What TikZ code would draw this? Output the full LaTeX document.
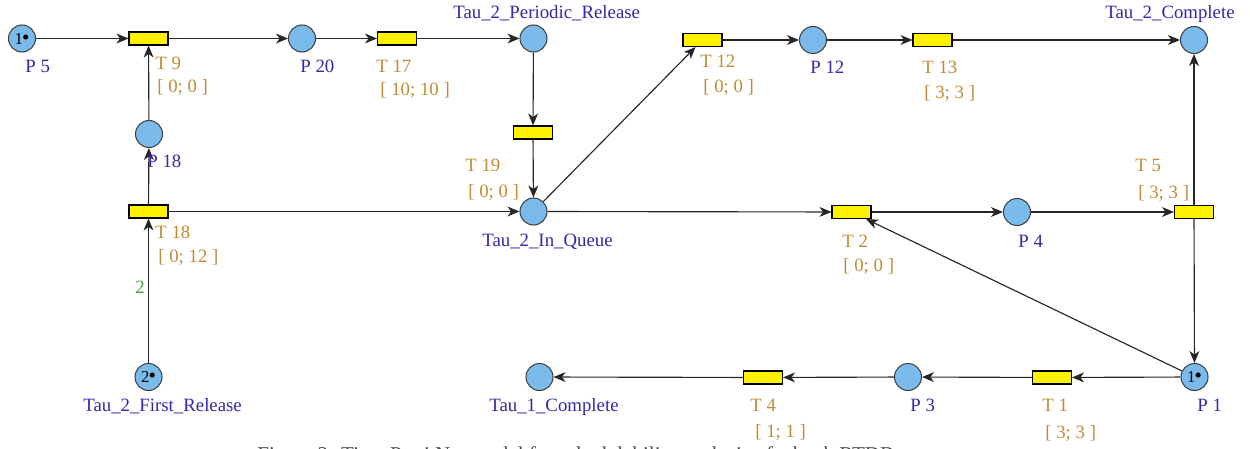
\documentclass[tikz,border=0pt]{standalone}
\usepackage{fontspec}
\setmainfont{Liberation Serif}
\usetikzlibrary{arrows.meta}
\definecolor{placefill}{RGB}{122,187,235}
\definecolor{labelblue}{RGB}{50,40,170}
\definecolor{timecol}{RGB}{190,140,55}
\definecolor{weightgreen}{RGB}{60,170,60}
\definecolor{captiongray}{RGB}{70,70,70}
\tikzset{
  place/.style={circle,draw=black!75,fill=placefill,line width=0.6pt,
    minimum size=0.54cm,inner sep=0pt,font=\fontsize{9.5}{10}\selectfont},
  trans/.style={rectangle,draw=black,fill=yellow,line width=0.6pt,
    minimum width=0.78cm,minimum height=0.26cm,inner sep=0pt},
  arc/.style={draw=black!85,line width=0.65pt,
    -{Stealth[length=6.8pt,width=5.6pt,inset=2pt]}},
  pname/.style={anchor=base west,inner sep=0pt,text=labelblue,
    font=\fontsize{10.7}{12}\selectfont},
  tname/.style={anchor=base west,inner sep=0pt,text=timecol,
    font=\fontsize{10.7}{12}\selectfont},
  weight/.style={anchor=base west,inner sep=0pt,text=weightgreen,
    font=\fontsize{10.7}{12}\selectfont}
}
\newcommand{\tok}[1]{#1\kern-0.5pt{\fontsize{12}{12}\selectfont\textbullet}}
\begin{document}
\begin{tikzpicture}[x=0.02cm,y=-0.02cm]
\useasboundingbox (0,0) rectangle (1250,449);

% places
\node[place] (P5)  at (22,38.5) {\tok{1}};
\node[place] (P20) at (302,38.5) {};
\node[place] (TPR) at (533.5,38.5) {};
\node[place] (P12) at (813,40) {};
\node[place] (T2C) at (1194,40) {};
\node[place] (P18) at (149,134) {};
\node[place] (TIQ) at (533.5,211.5) {};
\node[place] (P4)  at (1017,212) {};
\node[place] (TFR) at (148.5,377) {\tok{2}};
\node[place] (T1C) at (539.5,377) {};
\node[place] (P3)  at (908,377) {};
\node[place] (P1)  at (1194.5,377) {\tok{1}};

% transitions
\node[trans] (T9)  at (148.5,38.5) {};
\node[trans] (T17) at (397,38.5) {};
\node[trans] (T12) at (702.5,40) {};
\node[trans] (T13) at (932.5,40) {};
\node[trans] (T19) at (533,132.5) {};
\node[trans] (T18) at (148.5,211.5) {};
\node[trans] (T2)  at (851.5,212) {};
\node[trans] (T5)  at (1194,212) {};
\node[trans] (T4)  at (763,377.5) {};
\node[trans] (T1)  at (1052,377.5) {};

% arcs
\draw[arc] (P5) -- (T9);
\draw[arc] (T9) -- (P20);
\draw[arc] (P20) -- (T17);
\draw[arc] (T17) -- (TPR);
\draw[arc] (TPR) -- (T19);
\draw[arc] (T19) -- (TIQ);
\draw[arc] (P18) -- (T9);
\draw[arc] (T18) -- (P18);
\draw[arc] (TFR) -- (T18);
\draw[arc] (T18) -- (TIQ);
\draw[arc] (TIQ) -- (T12);
\draw[arc] (T12) -- (P12);
\draw[arc] (P12) -- (T13);
\draw[arc] (T13) -- (T2C);
\draw[arc] (TIQ) -- (T2);
\draw[arc] (T2) -- (P4);
\draw[arc] (P4) -- (T5);
\draw[arc] (T5) -- (T2C);
\draw[arc] (T5) -- (P1);
\draw[arc] (P1) -- (T2);
\draw[arc] (P1) -- (T1);
\draw[arc] (T1) -- (P3);
\draw[arc] (P3) -- (T4);
\draw[arc] (T4) -- (T1C);

% place names
\node[pname] (lP5)  at (25,73) {P 5};
\node[pname] (lP20) at (300,73) {P 20};
\node[pname] (lTPR) at (453,19) {Tau\_2\_Periodic\_Release};
\node[pname] (lP12) at (810,74) {P 12};
\node[pname] (lT2C) at (1105,19) {Tau\_2\_Complete};
\node[pname] (lP18) at (147,168) {P 18};
\node[pname] (lTIQ) at (482,246) {Tau\_2\_In\_Queue};
\node[pname] (lP4)  at (1018,247) {P 4};
\node[pname] (lTFR) at (83,411) {Tau\_2\_First\_Release};
\node[pname] (lT1C) at (489,411) {Tau\_1\_Complete};
\node[pname] (lP3)  at (910,411) {P 3};
\node[pname] (lP1)  at (1197,411) {P 1};

% transition names and firing intervals
\node[tname] (lT9)   at (155,70) {T 9};
\node[tname] (iT9)   at (157,93) {[ 0; 0 ]};
\node[tname] (lT17)  at (376,73) {T 17};
\node[tname] (iT17)  at (380,96) {[ 10; 10 ]};
\node[tname] (lT12)  at (700,68) {T 12};
\node[tname] (iT12)  at (703,93) {[ 0; 0 ]};
\node[tname] (lT13)  at (922,74) {T 13};
\node[tname] (iT13)  at (924,99) {[ 3; 3 ]};
\node[tname] (lT19)  at (465,172) {T 19};
\node[tname] (iT19)  at (468,197) {[ 0; 0 ]};
\node[tname] (lT5)   at (1135,172) {T 5};
\node[tname] (iT5)   at (1138,198) {[ 3; 3 ]};
\node[tname] (lT18)  at (155,238) {T 18};
\node[tname] (iT18)  at (158,262) {[ 0; 12 ]};
\node[tname] (lT2)   at (842,247) {T 2};
\node[tname] (iT2)   at (843,271) {[ 0; 0 ]};
\node[tname] (lT4)   at (750,411) {T 4};
\node[tname] (iT4)   at (755,437) {[ 1; 1 ]};
\node[tname] (lT1)   at (1042,411) {T 1};
\node[tname] (iT1)   at (1045,438) {[ 3; 3 ]};

% arc weight
\node[weight] (w2) at (135,293) {2};

% caption, cut by the lower edge
\begin{scope}
  \clip (0,0) rectangle (1250,449);
  \node[anchor=base west,inner sep=0pt,text=captiongray,
        font=\fontsize{12}{14}\selectfont] (cap) at (257,461)
        {Figure 2: Time Petri Net model for schedulability analysis of a bank RTDB};
\end{scope}
\end{tikzpicture}
\end{document}
